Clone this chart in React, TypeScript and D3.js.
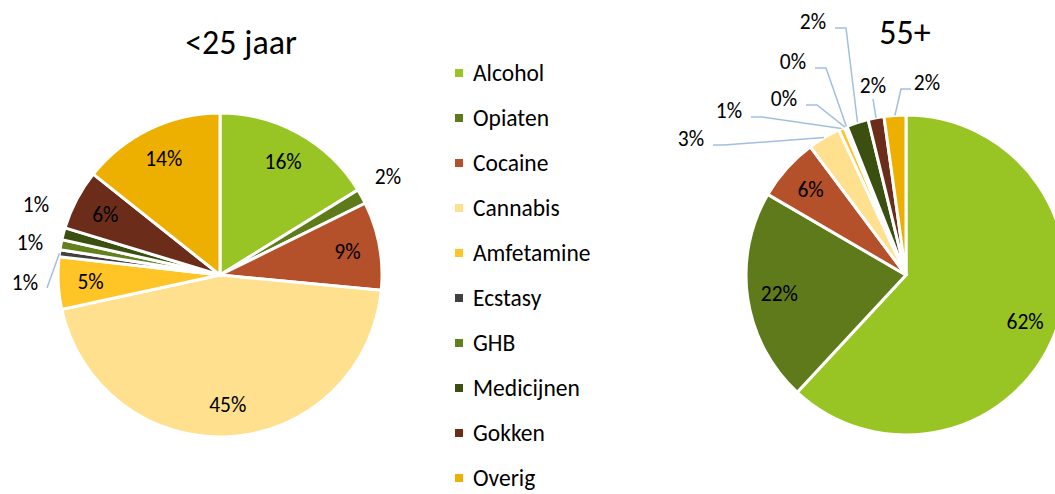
import React from "react";
import * as d3 from "d3";

const categories = ["Alcohol", "Opiaten", "Cocaine", "Cannabis", "Amfetamine", "Ecstasy", "GHB", "Medicijnen", "Gokken", "Overig"];
const colors = ["#98C424", "#5E7A1A", "#B4502A", "#FEE08F", "#FFC425", "#404040", "#62801D", "#3A4F10", "#6B2D1A", "#EDB000"];
const youngValues = [16.2, 1.5, 8.8, 45.1, 5.2, 0.7, 1.0, 1.2, 6.0, 14.3];
const oldValues = [61.9, 21.5, 6.4, 3.3, 0.6, 0.15, 0.15, 2.2, 1.6, 2.2];
const titles = ["<25 jaar", "55+"];

// label layout: index -> outside label placement (offset from pie centre) and leader style
type Outside = { dx: number; dy: number; leader: "none" | "left" | "below" | "right" | "leftStraight" };
const youngOutside: Record<number, Outside> = {
  1: { dx: 168, dy: -99, leader: "none" },
  5: { dx: -195, dy: 7, leader: "leftStraight" },
  6: { dx: -190, dy: -33, leader: "none" },
  7: { dx: -184, dy: -71, leader: "none" },
};
const oldOutside: Record<number, Outside> = {
  3: { dx: -215, dy: -137, leader: "left" },
  4: { dx: -177, dy: -165, leader: "left" },
  5: { dx: -122, dy: -177, leader: "left" },
  6: { dx: -113, dy: -214, leader: "left" },
  7: { dx: -93, dy: -254, leader: "left" },
  8: { dx: -33, dy: -190, leader: "below" },
  9: { dx: 21, dy: -193, leader: "right" },
};

const FONT = "Carlito, Calibri, Lato, sans-serif";
const LABEL_SIZE = 21.5;

function Pie({ values, cx, cy, r, outside, title, titleX, titleY }: any) {
  const pie = d3.pie<number>().sort(null).value((d) => d).startAngle(0).endAngle(2 * Math.PI);
  const arcs = pie(values);
  const arc = d3.arc<d3.PieArcDatum<number>>().innerRadius(0).outerRadius(r);
  const labelArc = d3.arc<d3.PieArcDatum<number>>().innerRadius(r * 0.8).outerRadius(r * 0.8);
  const edgeArc = d3.arc<d3.PieArcDatum<number>>().innerRadius(r).outerRadius(r);
  return (
    <g>
      <text x={titleX} y={titleY} textAnchor="middle" fontFamily={FONT} fontSize={34} fill="#000">{title}</text>
      <g transform={`translate(${cx},${cy})`}>
        {arcs.map((a, i) => (
          <path key={i} d={arc(a) || ""} fill={colors[i]} stroke="#fff" strokeWidth={3} strokeLinejoin="miter" />
        ))}
        {arcs.map((a, i) => {
          const label = `${Math.round(values[i])}%`;
          const o: Outside | undefined = outside[i];
          if (!o) {
            const [lx, ly] = labelArc.centroid(a);
            return (
              <text key={"l" + i} x={lx} y={ly} dy="0.35em" textAnchor="middle" fontFamily={FONT} fontSize={LABEL_SIZE} fill="#000">{label}</text>
            );
          }
          const [ex, ey] = edgeArc.centroid(a);
          let pts: [number, number][] = [];
          if (o.leader === "left") pts = [[o.dx + 22, o.dy + 7], [o.dx + 33, o.dy + 7], [ex, ey]];
          else if (o.leader === "leftStraight") pts = [[o.dx + 22, o.dy + 6], [ex, ey]];
          else if (o.leader === "below") pts = [[o.dx, o.dy + 14], [ex, ey]];
          else if (o.leader === "right") pts = [[o.dx - 16, o.dy + 7], [o.dx - 26, o.dy + 7], [ex, ey]];
          return (
            <g key={"l" + i}>
              {pts.length > 0 && (
                <polyline points={pts.map((p) => p.join(",")).join(" ")} fill="none" stroke="#A3BEE0" strokeWidth={1.5} />
              )}
              <text x={o.dx} y={o.dy} dy="0.35em" textAnchor="middle" fontFamily={FONT} fontSize={LABEL_SIZE} fill="#000">{label}</text>
            </g>
          );
        })}
      </g>
    </g>
  );
}

export default function App() {
  const legendY = d3.scalePoint<string>().domain(categories).range([73, 478]);
  return (
    <svg width={1055} height={494} style={{ position: "fixed", left: 0, top: 0, background: "#fff" }}>
      <rect width={1055} height={494} fill="#fff" />
      <Pie values={youngValues} cx={220} cy={275} r={162} outside={youngOutside} title={titles[0]} titleX={241} titleY={54} />
      <Pie values={oldValues} cx={906} cy={275} r={160} outside={oldOutside} title={titles[1]} titleX={905} titleY={44} />
      <g>
        {categories.map((c, i) => (
          <g key={c} transform={`translate(455,${legendY(c)})`}>
            <rect x={0} y={-4} width={8} height={8} fill={colors[i]} />
            <text x={18} y={0} dy="0.35em" fontFamily={FONT} fontSize={23.5} fill="#000">{c}</text>
          </g>
        ))}
      </g>
    </svg>
  );
}
